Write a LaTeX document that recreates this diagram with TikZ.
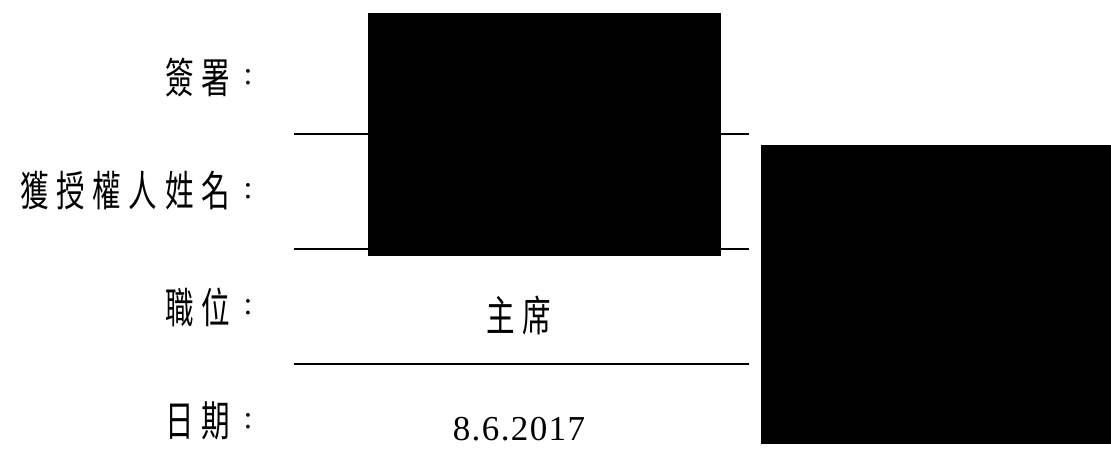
\documentclass[tikz,border=0pt]{standalone}
\usepackage{fontspec}
\setmainfont{Liberation Serif}
\newfontfamily\cjk[FakeStretch=0.68,LetterSpace=18]{Noto Sans CJK TC}
\begin{document}
\begin{tikzpicture}[x=1pt,y=-1pt,
  lbl/.style={inner sep=0pt,anchor=east,font=\cjk\fontsize{42}{42}\selectfont},
  colon/.style={inner sep=0pt,anchor=center,font=\fontsize{32}{32}\selectfont},
  val/.style={inner sep=0pt,anchor=center},
  rule/.style={line width=2pt,black},
  redact/.style={fill=black,draw=none}]
\useasboundingbox (0,0) rectangle (1111,476);
% rows
\node[lbl] (l1) at (230,77) {簽署};
\node[colon] (c1) at (248,77) {:};
\node[lbl] (l2) at (230,191) {獲授權人姓名};
\node[colon] (c2) at (248,191) {:};
\node[lbl] (l3) at (230,307) {職位};
\node[colon] (c3) at (248,307) {:};
\node[lbl] (l4) at (230,421) {日期};
\node[colon] (c4) at (248,421) {:};
% values
\node[val,font=\cjk\fontsize{42}{42}\selectfont] (v3) at (519,315) {主席};
\node[val,font=\fontsize{35}{35}\selectfont\addfontfeatures{LetterSpace=4}] (v4) at (519,429) {8.6.2017};
% rules
\coordinate (a1) at (294,134.5); \coordinate (b1) at (749,134.5);
\coordinate (a2) at (294,249);   \coordinate (b2) at (749,249);
\coordinate (a3) at (294,363.5); \coordinate (b3) at (749,363.5);
\draw[rule] (a1) -- (b1);
\draw[rule] (a2) -- (b2);
\draw[rule] (a3) -- (b3);
% redaction boxes
\fill[redact] (368,13) rectangle (721,256);
\fill[redact] (761,145) rectangle (1111,444);
\end{tikzpicture}
\end{document}
